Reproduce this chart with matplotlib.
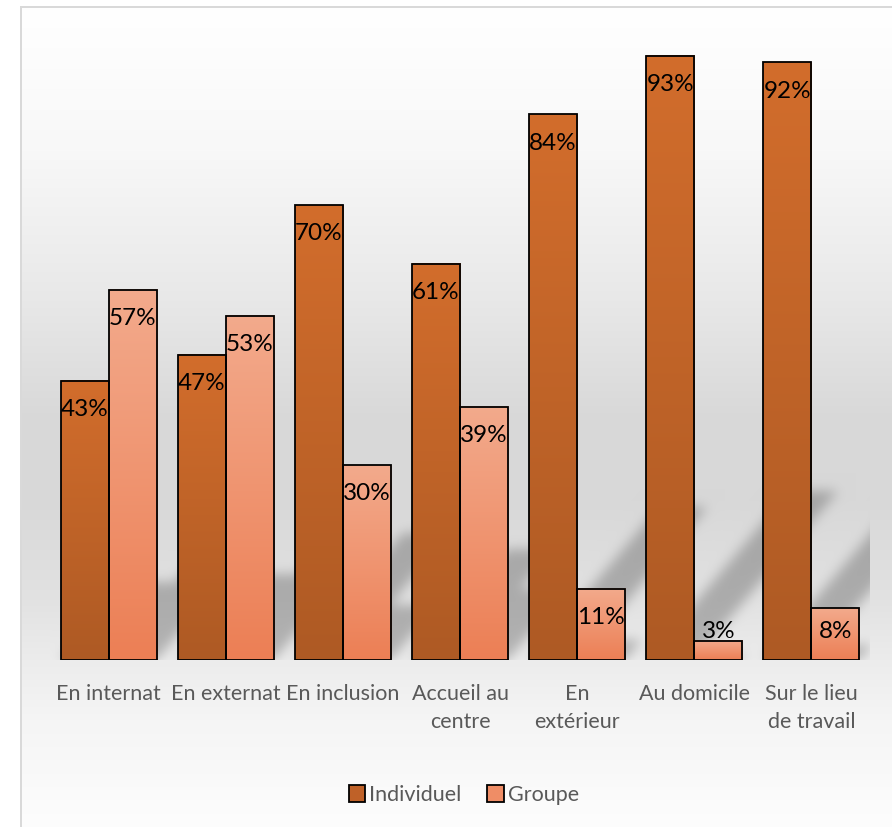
import numpy as np
import matplotlib
matplotlib.use("Agg")
import matplotlib.pyplot as plt
from matplotlib.path import Path
from matplotlib.patches import Patch
from matplotlib.colors import to_rgb

# ---- data ----
categories = ["En internat", "En externat", "En inclusion", "Accueil au\ncentre",
              "En\nextérieur", "Au domicile", "Sur le lieu\nde travail"]
individuel = [43, 47, 70, 61, 84, 93, 92]
groupe = [57, 53, 30, 39, 11, 3, 8]
series_names = ["Individuel", "Groupe"]

W, H = 892, 827
DPI = 100
plt.rcParams['font.family'] = ['Lato', 'DejaVu Sans']

fig = plt.figure(figsize=(W / DPI, H / DPI), dpi=DPI)

# main axes placement in pixels
ax_l, ax_r, ax_t, ax_b = 50, 870, 10, 660
ax = fig.add_axes([ax_l / W, 1 - ax_b / H, (ax_r - ax_l) / W, (ax_b - ax_t) / H])
ax.set_zorder(2)
ax.patch.set_alpha(0)

n = len(categories)
x = np.arange(n)
bw = 0.41
ax.set_xlim(-0.5, n - 0.5)
ax.set_ylim(0, 100)

# ---- background (gradient + soft shadows) ----
bg = fig.add_axes([0, 0, 1, 1])
bg.set_zorder(0)
bg.axis('off')
rows = np.arange(H)
ky = [0, 7, 150, 300, 420, 500, 600, 660, 720, 800, H]
kg = [255, 255, 248, 232, 216, 216, 226, 236, 245, 251, 253]
gray = np.interp(rows, ky, kg) / 255.0
img = np.repeat(gray[:, None], W, axis=1)

# shadows from bars (sheared, blurred)
yy, xx = np.mgrid[0:H, 0:W]
pts = np.column_stack([xx.ravel() + 0.5, yy.ravel() + 0.5])
shadow = np.zeros(H * W)
trans = ax.transData
for vals, off in ((individuel, -bw / 2), (groupe, bw / 2)):
    for xi, v in zip(x, vals):
        (x0, y0) = trans.transform((xi + off - bw / 2, 0))
        (x1, y1) = trans.transform((xi + off + bw / 2, v))
        base = H - y0
        h = (y1 - y0)
        dy = 0.28 * h
        dx = 0.85 * dy
        poly = Path([(x0, base), (x1, base), (x1 + dx, base - dy), (x0 + dx, base - dy)])
        shadow = np.maximum(shadow, poly.contains_points(pts).astype(float))
shadow = shadow.reshape(H, W)
sig = 6
k = np.exp(-0.5 * (np.arange(-3 * sig, 3 * sig + 1) / sig) ** 2)
k /= k.sum()
shadow = np.apply_along_axis(lambda r: np.convolve(r, k, mode='same'), 1, shadow)
shadow = np.apply_along_axis(lambda c: np.convolve(c, k, mode='same'), 0, shadow)
mask = np.zeros_like(shadow)
mask[ax_t:ax_b, ax_l:ax_r] = 1
img = img * (1 - 0.24 * shadow * mask)

rgb = np.dstack([img, img, img])
# outside the chart frame: white
rgb[:7, :, :] = 1.0
rgb[:, :21, :] = 1.0
# frame lines
fc = np.array(to_rgb('#D9D9D9'))
rgb[6:8, 20:, :] = fc
rgb[6:, 20:22, :] = fc
bg.imshow(rgb, extent=(0, 1, 0, 1), aspect='auto', interpolation='nearest', zorder=0)
bg.set_xlim(0, 1)
bg.set_ylim(0, 1)

# ---- bars ----
col_ind = ('#D26D2C', '#AE5A24')
col_grp = ('#F3AA8C', '#EC7F55')

def grad_bar(xc, v, cols):
    c_top = np.array(to_rgb(cols[0]))
    c_bot = np.array(to_rgb(cols[1]))
    t = np.linspace(0, 1, 200)[:, None]
    g = c_top[None, :] * (1 - t) + c_bot[None, :] * t
    g = g[:, None, :]
    ax.imshow(g, extent=(xc - bw / 2, xc + bw / 2, 0, v), aspect='auto',
              interpolation='bilinear', zorder=2)

for xi, v in zip(x, individuel):
    grad_bar(xi - bw / 2, v, col_ind)
for xi, v in zip(x, groupe):
    grad_bar(xi + bw / 2, v, col_grp)

ax.bar(x - bw / 2, individuel, bw, facecolor='none', edgecolor='black', linewidth=1.3, zorder=3)
ax.bar(x + bw / 2, groupe, bw, facecolor='none', edgecolor='black', linewidth=1.3, zorder=3)

ax.set_xlim(-0.5, n - 0.5)
ax.set_ylim(0, 100)

# value labels (inside end)
px_per_unit = (ax_b - ax_t) / 100.0
for vals, off in ((individuel, -bw / 2), (groupe, bw / 2)):
    for xi, v in zip(x, vals):
        yl = max(v - 29 / px_per_unit, 28 / px_per_unit)
        ax.text(xi + off, yl, f"{v}%", ha='center', va='center', fontsize=17.5,
                color='black', zorder=4)

# axes styling
for s in ax.spines.values():
    s.set_visible(False)
ax.set_yticks([])
ax.set_xticks(x)
ax.set_xticklabels(categories, fontsize=15.5, color='#595959', linespacing=1.5)
ax.tick_params(axis='x', length=0, pad=17)

# legend
handles = [Patch(facecolor='#BF6128', edgecolor='black', linewidth=1.3),
           Patch(facecolor='#EF8D66', edgecolor='black', linewidth=1.3)]
leg = fig.legend(handles, series_names, loc='center', bbox_to_anchor=(464 / W, 1 - 795 / H),
                 ncol=2, frameon=False, fontsize=15.5, handlelength=0.75, handleheight=0.8,
                 handletextpad=0.2, columnspacing=1.2)
for t in leg.get_texts():
    t.set_color('#595959')

fig.savefig('out.png', dpi=DPI)
